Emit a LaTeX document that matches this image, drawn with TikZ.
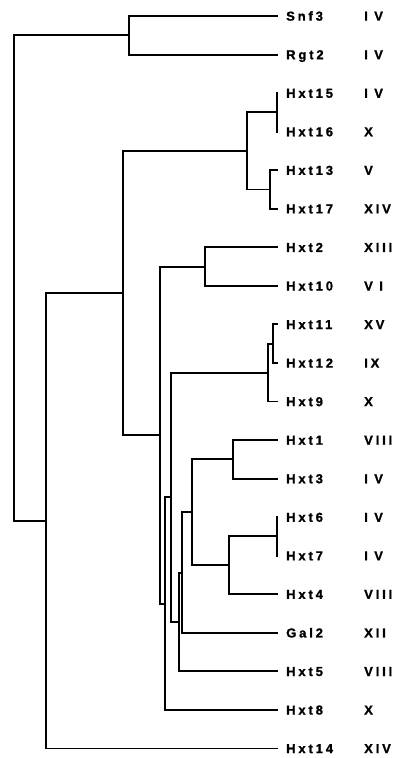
\documentclass[tikz,border=0pt]{standalone}
\usepackage{fontspec}
\newfontfamily\treefont{Liberation Sans Bold}[LetterSpace=22, FakeBold=1.2]
\begin{document}
\begin{tikzpicture}[x=1pt,y=-1pt,
  branch/.style={line width=1.9pt, line join=miter, line cap=butt},
  labeltext/.style={font=\treefont\fontsize{13}{15}\selectfont,
    text height=9.3pt, text depth=0pt, anchor=west},
  taxon/.style={labeltext, inner xsep=8pt, inner ysep=0pt},
  chrom/.style={labeltext, inner sep=0pt}]
\useasboundingbox (0,0) rectangle (396,758);

% leaves: gene name and chromosome
\foreach \nm/\chr [count=\i from 0] in {
  Snf3/I V, Rgt2/I V, Hxt15/I V, Hxt16/X, Hxt13/V, Hxt17/XIV,
  Hxt2/XIII, Hxt10/V I, Hxt11/XV, Hxt12/IX, Hxt9/X, Hxt1/VIII,
  Hxt3/I V, Hxt6/I V, Hxt7/I V, Hxt4/VIII, Gal2/XII, Hxt5/VIII,
  Hxt8/X, Hxt14/XIV}{
  \node[taxon] (\nm) at (278, 16+38.55*\i) {\nm};
  \node[chrom] (chr\nm) at (364, 16+38.55*\i) {\chr};
}

% internal branch points
\coordinate (root)  at (14, 278.0);
\coordinate (nSR)   at (129, 35.3);
\coordinate (nH14)  at (46, 520.7);
\coordinate (nUp)   at (123, 293.0);
\coordinate (n1517) at (247, 150.9);
\coordinate (n1516) at (277, 112.4);
\coordinate (n1317) at (270, 189.5);
\coordinate (nH2)   at (160, 435.1);
\coordinate (n210)  at (205, 266.6);
\coordinate (nH8)   at (165, 603.6);
\coordinate (nH9)   at (171, 497.3);
\coordinate (n119)  at (268, 372.6);
\coordinate (n1112) at (273, 343.7);
\coordinate (nH5)   at (179, 622.0);
\coordinate (nGal)  at (182, 572.6);
\coordinate (n1to4) at (192, 512.3);
\coordinate (n13)   at (233, 459.3);
\coordinate (n674)  at (229, 565.3);
\coordinate (n67)   at (277, 536.4);

% branches
\foreach \p/\c in {
  root/nSR, root/nH14,
  nSR/Snf3.west, nSR/Rgt2.west,
  nH14/nUp, nH14/Hxt14.west,
  nUp/n1517, nUp/nH2,
  n1517/n1516, n1517/n1317,
  n1516/Hxt15.west, n1516/Hxt16.west,
  n1317/Hxt13.west, n1317/Hxt17.west,
  nH2/n210, nH2/nH8,
  n210/Hxt2.west, n210/Hxt10.west,
  nH8/nH9, nH8/Hxt8.west,
  nH9/n119, nH9/nH5,
  n119/n1112, n119/Hxt9.west,
  n1112/Hxt11.west, n1112/Hxt12.west,
  nH5/nGal, nH5/Hxt5.west,
  nGal/n1to4, nGal/Gal2.west,
  n1to4/n13, n1to4/n674,
  n13/Hxt1.west, n13/Hxt3.west,
  n674/n67, n674/Hxt4.west,
  n67/Hxt6.west, n67/Hxt7.west}{
  \draw[branch] (\p) |- (\c);
}
\end{tikzpicture}
\end{document}
